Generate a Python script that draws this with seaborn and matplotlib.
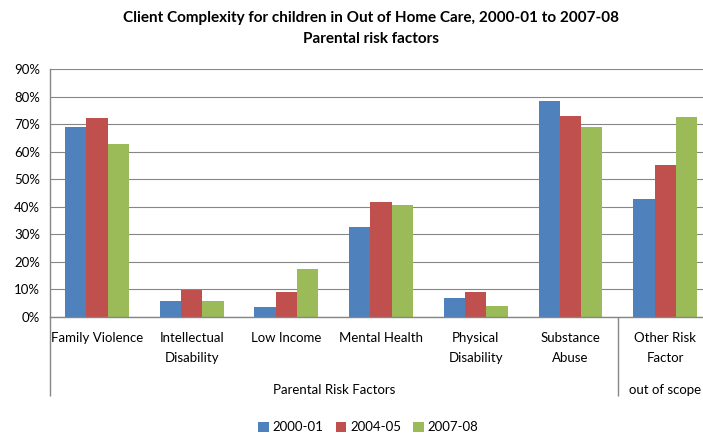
# Parental risk factors for children in out of home care - grouped bars
import pandas as pd
import matplotlib.pyplot as plt
from matplotlib.ticker import FuncFormatter
import seaborn as sns

# Data (percent of children)
categories = ["Family Violence", "Intellectual\nDisability", "Low Income",
              "Mental Health", "Physical\nDisability", "Substance\nAbuse",
              "Other Risk\nFactor"]
years = ["2000-01", "2004-05", "2007-08"]
vals_2000 = [69.1, 5.7, 3.5, 32.5, 6.8, 78.5, 43.0]
vals_2004 = [72.4, 9.7, 8.9, 41.6, 8.9, 73.1, 55.0]
vals_2007 = [62.9, 5.7, 17.3, 40.5, 3.9, 69.1, 72.7]
groups = ["Parental Risk Factors", "out of scope"]
group_centers = [2.5, 6]
group_edges = [-0.5, 5.5, 6.5]

colors = ["#4F81BD", "#C0504D", "#9BBB59"]
grey = "#868686"

# long form table for seaborn
df = pd.DataFrame({
    "category": categories * 3,
    "year": [y for y in years for _ in categories],
    "value": vals_2000 + vals_2004 + vals_2007,
})

sns.set_style("white")
plt.rcParams['font.family'] = ['Lato', 'DejaVu Sans']
plt.rcParams['font.size'] = 9.5
plt.rcParams['text.color'] = 'black'
plt.rcParams['xtick.color'] = 'black'
plt.rcParams['ytick.color'] = 'black'

fig = plt.figure(figsize=(7.03, 4.36), dpi=100)
ax = fig.add_axes([0.0706, 0.2729, 0.943, 0.5688])

sns.barplot(data=df, x="category", y="value", hue="year", order=categories,
            hue_order=years, palette=colors, width=0.675, gap=0,
            saturation=1, linewidth=0, ax=ax)

ax.set_xlim(-0.5, 6.5)
ax.set_ylim(0, 90)
ax.set_yticks(range(0, 91, 10))
ax.yaxis.set_major_formatter(FuncFormatter(lambda v, p: f"{v:.0f}%"))
ax.set_xlabel("")
ax.set_ylabel("")

# grid and spines, Excel look
ax.yaxis.grid(True, color=grey, linewidth=0.8)
ax.set_axisbelow(True)
for s in ["top", "right"]:
    ax.spines[s].set_visible(False)
for s in ["left", "bottom"]:
    ax.spines[s].set_color(grey)
    ax.spines[s].set_linewidth(1.0)
ax.tick_params(axis="y", direction="out", length=4, color=grey, width=1,
               labelsize=9.5, pad=3)

# first level of category axis
ax.set_xticks(range(len(categories)))
ax.set_xticklabels(categories, linespacing=1.75)
ax.set_xticks([x - 0.5 for x in range(len(categories) + 1)], minor=True)
ax.tick_params(axis="x", which="major", length=0, pad=11, labelsize=9.5)
ax.tick_params(axis="x", which="minor", direction="out", length=35,
               color=grey, width=1)

# second level of category axis
sec = ax.secondary_xaxis("bottom")
sec.spines["bottom"].set_visible(False)
sec.set_xticks(group_centers)
sec.set_xticklabels(groups)
sec.set_xticks(group_edges, minor=True)
sec.tick_params(axis="x", which="major", length=0, pad=48, labelsize=9.5)
sec.tick_params(axis="x", which="minor", direction="out", length=57,
                color=grey, width=1)

# legend at the bottom
ax.legend_.remove()
handles, labels = ax.get_legend_handles_labels()
fig.legend(handles, labels, loc="center", bbox_to_anchor=(0.524, 0.02),
           ncol=3, frameon=False, handlelength=0.8, handleheight=0.8,
           handletextpad=0.3, columnspacing=0.9, fontsize=9.5)

fig.suptitle("Client Complexity for children in Out of Home Care, 2000-01 to 2007-08\n"
             "Parental risk factors", x=0.528, y=0.975, fontsize=11,
             fontweight="bold", linespacing=1.65)

fig.savefig("out.png", dpi=100)
